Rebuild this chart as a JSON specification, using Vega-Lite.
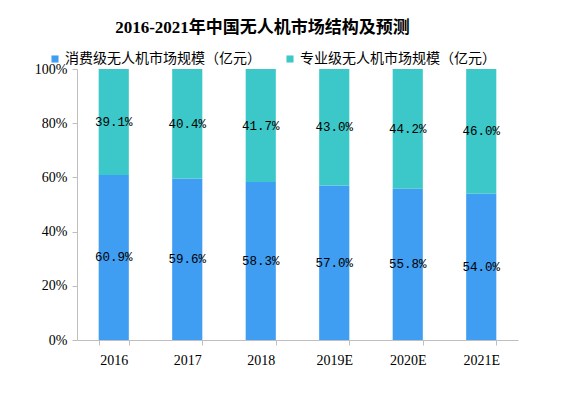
{
  "$schema": "https://vega.github.io/schema/vega-lite/v6.json",
  "width": 441,
  "height": 271,
  "autosize": {"type": "none"},
  "padding": {"left": 77, "top": 69, "right": 50, "bottom": 53},
  "background": "white",
  "title": {
    "text": "2016-2021年中国无人机市场结构及预测",
    "font": "Liberation Serif, Noto Sans CJK SC",
    "fontSize": 17,
    "fontWeight": "bold",
    "color": "#000000",
    "anchor": "middle",
    "dx": -35,
    "offset": 15
  },
  "data": {
    "values": [
      {"year": "2016", "type": "消费级无人机市场规模（亿元）", "value": 60.9},
      {"year": "2016", "type": "专业级无人机市场规模（亿元）", "value": 39.1},
      {"year": "2017", "type": "消费级无人机市场规模（亿元）", "value": 59.6},
      {"year": "2017", "type": "专业级无人机市场规模（亿元）", "value": 40.4},
      {"year": "2018", "type": "消费级无人机市场规模（亿元）", "value": 58.3},
      {"year": "2018", "type": "专业级无人机市场规模（亿元）", "value": 41.7},
      {"year": "2019E", "type": "消费级无人机市场规模（亿元）", "value": 57.0},
      {"year": "2019E", "type": "专业级无人机市场规模（亿元）", "value": 43.0},
      {"year": "2020E", "type": "消费级无人机市场规模（亿元）", "value": 55.8},
      {"year": "2020E", "type": "专业级无人机市场规模（亿元）", "value": 44.2},
      {"year": "2021E", "type": "消费级无人机市场规模（亿元）", "value": 54.0},
      {"year": "2021E", "type": "专业级无人机市场规模（亿元）", "value": 46.0}
    ]
  },
  "transform": [
    {"calculate": "datum.type === '消费级无人机市场规模（亿元）' ? 0 : 1", "as": "ord"},
    {"stack": "value", "groupby": ["year"], "sort": [{"field": "ord", "order": "ascending"}], "as": ["v0", "v1"]},
    {"calculate": "(datum.v0 + datum.v1) / 2", "as": "mid"},
    {"calculate": "format(datum.value, '.1f') + '%'", "as": "label"}
  ],
  "encoding": {
    "x": {
      "field": "year",
      "type": "nominal",
      "sort": null,
      "title": null,
      "scale": {"paddingInner": 0.59, "paddingOuter": 0.295},
      "axis": {
        "labelAngle": 0,
        "labelFont": "Liberation Serif",
        "labelFontSize": 14,
        "labelColor": "#000000",
        "labelPadding": 8,
        "domainColor": "#BFBFBF",
        "tickColor": "#BFBFBF",
        "tickSize": 5,
        "tickBand": "extent"
      }
    }
  },
  "layer": [
    {
      "mark": {"type": "bar"},
      "encoding": {
        "y": {
          "field": "v0",
          "type": "quantitative",
          "scale": {"domain": [0, 100]},
          "title": null,
          "axis": {
            "values": [0, 20, 40, 60, 80, 100],
            "labelExpr": "datum.value + '%'",
            "labelFont": "Liberation Serif",
            "labelFontSize": 14,
            "labelColor": "#000000",
            "labelPadding": 5,
            "grid": false,
            "domainColor": "#BFBFBF",
            "tickColor": "#BFBFBF",
            "tickSize": 5
          }
        },
        "y2": {"field": "v1"},
        "color": {
          "field": "type",
          "type": "nominal",
          "sort": ["消费级无人机市场规模（亿元）", "专业级无人机市场规模（亿元）"],
          "scale": {
            "domain": ["消费级无人机市场规模（亿元）", "专业级无人机市场规模（亿元）"],
            "range": ["#3F9DF2", "#3CC8C8"]
          },
          "legend": {
            "title": null,
            "orient": "none",
            "direction": "horizontal",
            "legendX": -29,
            "legendY": -17,
            "symbolType": "square",
            "symbolSize": 50,
            "symbolStrokeWidth": 0,
            "labelFont": "Noto Sans CJK SC",
            "labelFontSize": 14,
            "labelColor": "#000000",
            "labelOffset": 3,
            "labelLimit": 0,
            "columnPadding": 22
          }
        }
      }
    },
    {
      "mark": {
        "type": "text",
        "font": "Liberation Mono",
        "fontSize": 12.5,
        "color": "#000000",
        "baseline": "middle",
        "align": "center"
      },
      "encoding": {
        "y": {"field": "mid", "type": "quantitative"},
        "text": {"field": "label"}
      }
    }
  ],
  "config": {
    "view": {"stroke": null}
  }
}
